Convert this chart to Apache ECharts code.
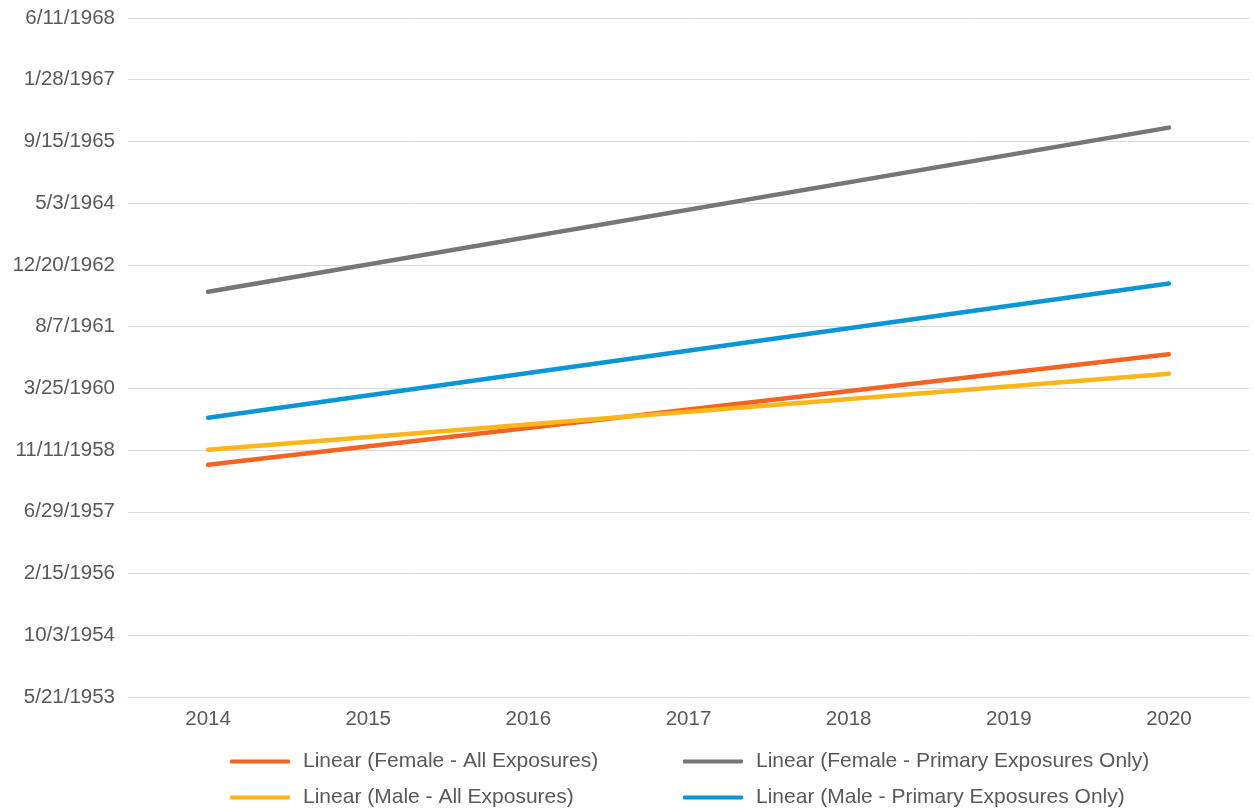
<!DOCTYPE html>
<html>
<head>
<meta charset="utf-8">
<script src="https://cdn.jsdelivr.net/npm/echarts@6/dist/echarts.min.js"></script>
<style>
  html, body { margin: 0; padding: 0; background: #fff; }
  #chart { width: 1254px; height: 812px; }
</style>
</head>
<body>
<div id="chart"></div>
<script>
// Year categories along the x axis
const years = ['2014', '2015', '2016', '2017', '2018', '2019', '2020'];

// Trend-line values as spreadsheet date serials (days since 1899-12-30);
// only the two ends of each straight trend line are given.
const femaleAll     = [21381, '-', '-', '-', '-', '-', 22277];
const femalePrimary = [22782, '-', '-', '-', '-', '-', 24112];
const maleAll       = [21503, '-', '-', '-', '-', '-', 22118];
const malePrimary   = [21762, '-', '-', '-', '-', '-', 22849];

// Value-axis range and step, in date serials
const yMin = 19500;   // 5/21/1953
const yMax = 25000;   // 6/11/1968
const yStep = 500;

const seriesNames = [
  'Linear (Female - All Exposures)',
  'Linear (Female - Primary Exposures Only)',
  'Linear (Male - All Exposures)',
  'Linear (Male - Primary Exposures Only)'
];
const colors = ['#F26324', '#767676', '#FDB619', '#0A96D6'];

function serialToDate(serial) {
  const d = new Date(Math.round((serial - 25569) * 86400000));
  return (d.getUTCMonth() + 1) + '/' + d.getUTCDate() + '/' + d.getUTCFullYear();
}

const textColor = '#595959';
const font = 'Liberation Sans, Arial, sans-serif';

const chart = echarts.init(document.getElementById('chart'), null, { renderer: 'canvas' });

function lineSeries(name, data, color) {
  return {
    name: name,
    type: 'line',
    data: data,
    connectNulls: true,
    symbol: 'none',
    lineStyle: { color: color, width: 4.5, cap: 'round' },
    itemStyle: { color: color },
    z: 3
  };
}

const legendCommon = {
  orient: 'vertical',
  icon: 'roundRect',
  itemWidth: 60,
  itemHeight: 4,
  itemGap: 15,
  padding: 0,
  height: 60,
  textStyle: { color: textColor, fontSize: 21, fontFamily: font, lineHeight: 21, padding: [0, 0, 0, 8] },
  selectedMode: false
};

chart.setOption({
  animation: false,
  backgroundColor: '#ffffff',
  color: colors,
  grid: { left: 128, right: 5, top: 18, bottom: 115, containLabel: false },
  legend: [
    Object.assign({ left: 230, top: 751, data: [seriesNames[0], seriesNames[2]] }, legendCommon),
    Object.assign({ left: 683, top: 751, data: [seriesNames[1], seriesNames[3]] }, legendCommon)
  ],
  xAxis: {
    type: 'category',
    data: years,
    boundaryGap: true,
    axisLine: { show: true, lineStyle: { color: '#D9D9D9', width: 1 } },
    axisTick: { show: false },
    axisLabel: { color: textColor, fontSize: 20.5, fontFamily: font, margin: 12 }
  },
  yAxis: {
    type: 'value',
    min: yMin,
    max: yMax,
    interval: yStep,
    axisLine: { show: false },
    axisTick: { show: false },
    splitLine: { lineStyle: { color: '#D9D9D9', width: 1 } },
    axisLabel: {
      color: textColor, fontSize: 20.5, fontFamily: font, margin: 13,
      formatter: function (v) { return serialToDate(v); }
    }
  },
  series: [
    lineSeries(seriesNames[0], femaleAll, colors[0]),
    lineSeries(seriesNames[1], femalePrimary, colors[1]),
    lineSeries(seriesNames[2], maleAll, colors[2]),
    lineSeries(seriesNames[3], malePrimary, colors[3])
  ]
});
</script>
</body>
</html>
